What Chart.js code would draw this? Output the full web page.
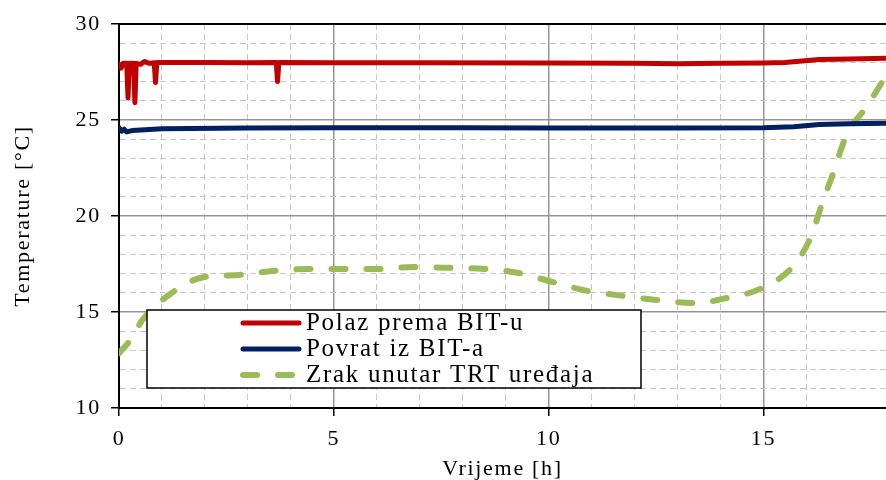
<!DOCTYPE html>
<html>
<head>
<meta charset="utf-8">
<script src="https://cdn.jsdelivr.net/npm/chart.js@4.4.0/dist/chart.umd.min.js"></script>
<style>
  html, body { margin: 0; padding: 0; background: #fff; overflow: hidden; }
  #wrap { width: 886px; height: 480px; }
</style>
</head>
<body>
<div id="wrap"><canvas id="myChart" width="886" height="480"></canvas></div>
<script>
const seriesNames = ['Polaz prema BIT-u', 'Povrat iz BIT-a', 'Zrak unutar TRT uređaja'];

// Polaz prema BIT-u
const polazH = [0, 0.05, 0.1, 0.18, 0.21, 0.24, 0.34, 0.37, 0.4, 0.5, 0.6, 0.7, 0.82, 0.85, 0.88, 2, 3, 3.66, 3.69, 3.72, 5, 7, 10, 12, 13, 14, 15, 15.5, 16.3, 17, 17.85];
const polazT = [27.9, 27.7, 27.95, 27.95, 26.15, 27.95, 27.95, 25.9, 27.95, 27.9, 28.05, 27.95, 27.98, 26.95, 28.0, 28.0, 27.98, 28.0, 27.0, 28.0, 27.98, 27.98, 27.97, 27.95, 27.93, 27.95, 27.97, 28.0, 28.15, 28.18, 28.22];

// Povrat iz BIT-a
const povratH = [0, 0.06, 0.12, 0.18, 0.3, 1, 3, 5, 8, 10, 13, 15, 15.7, 16.3, 17, 17.85];
const povratT = [24.6, 24.42, 24.52, 24.38, 24.45, 24.55, 24.58, 24.6, 24.6, 24.58, 24.58, 24.6, 24.65, 24.77, 24.8, 24.83];

// Zrak unutar TRT uređaja
const zrakH = [0, 0.25, 0.55, 1.17, 1.94, 2.8, 3.57, 4.43, 5.2, 6.06, 6.83, 7.69, 8.5, 9.3, 10.1, 10.9, 11.6, 12.5, 13.4, 14.15, 14.97, 15.67, 16.1, 16.37, 16.6, 16.93, 17.4, 17.85];
const zrakT = [12.85, 13.5, 14.6, 15.9, 16.8, 16.93, 17.14, 17.24, 17.24, 17.24, 17.34, 17.3, 17.24, 17.03, 16.56, 16.1, 15.88, 15.63, 15.47, 15.73, 16.25, 17.34, 18.9, 20.7, 22.1, 24.2, 25.7, 27.3];

const xTicks = [0, 5, 10, 15];
const yTicks = [10, 15, 20, 25, 30];

const serif = "'Liberation Serif', 'Times New Roman', serif";
const pts = (xs, ys) => xs.map((x, i) => ({ x: x, y: ys[i] }));
const isMajor = (ctx, list) => ctx.tick && list.includes(ctx.tick.value);

// legend in a box inside the plot, like the original
const boxLegend = {
  id: 'boxLegend',
  afterDatasetsDraw(chart) {
    const { ctx, chartArea } = chart;
    const left = chartArea.left + 28, top = chartArea.top + 286;
    const w = 494, h = 78;
    ctx.save();
    ctx.fillStyle = '#fff';
    ctx.fillRect(left, top, w, h);
    ctx.strokeStyle = '#000';
    ctx.lineWidth = 1.5;
    ctx.strokeRect(left, top, w, h);
    ctx.letterSpacing = '1.7px';
    ctx.font = '25px ' + serif;
    ctx.textBaseline = 'alphabetic';
    chart.data.datasets.forEach((ds, i) => {
      const yy = top + 13 + i * 26;
      ctx.beginPath();
      ctx.strokeStyle = ds.borderColor;
      ctx.lineWidth = ds.borderWidth;
      ctx.lineCap = 'round';
      ctx.setLineDash(ds.borderDash || []);
      ctx.moveTo(left + 96, yy);
      ctx.lineTo(left + 152, yy);
      ctx.stroke();
      ctx.setLineDash([]);
      ctx.fillStyle = '#000';
      ctx.fillText(ds.label, left + 159, yy + 7);
    });
    ctx.restore();
  },
  beforeDraw(chart) {
    chart.ctx.letterSpacing = '1.7px';
  },
  afterDraw(chart) {
    const { ctx, chartArea } = chart;
    ctx.save();
    ctx.strokeStyle = '#000';
    ctx.lineWidth = 2;
    ctx.beginPath();
    ctx.moveTo(chartArea.left, chartArea.top);
    ctx.lineTo(chartArea.right, chartArea.top);
    ctx.stroke();
    ctx.restore();
  }
};

new Chart(document.getElementById('myChart'), {
  type: 'line',
  data: {
    datasets: [
      {
        label: seriesNames[0], data: pts(polazH, polazT),
        borderColor: '#C00000', borderWidth: 5, pointRadius: 0, tension: 0,
        borderCapStyle: 'round', borderJoinStyle: 'round'
      },
      {
        label: seriesNames[1], data: pts(povratH, povratT),
        borderColor: '#002060', borderWidth: 5, pointRadius: 0, tension: 0,
        borderCapStyle: 'round', borderJoinStyle: 'round'
      },
      {
        label: seriesNames[2], data: pts(zrakH, zrakT),
        borderColor: '#9BBB59', borderWidth: 6, pointRadius: 0,
        cubicInterpolationMode: 'monotone', borderDash: [14, 21],
        borderCapStyle: 'round'
      }
    ]
  },
  options: {
    responsive: false,
    animation: false,
    devicePixelRatio: 1,
    layout: { padding: { top: 24, right: 0, left: 0, bottom: 0 } },
    plugins: { legend: { display: false }, tooltip: { enabled: false } },
    scales: {
      x: {
        type: 'linear', min: 0, max: 17.85,
        afterBuildTicks: axis => { axis.ticks = axis.ticks.filter(t => Number.isInteger(t.value)); },
        afterFit: axis => { axis.height = 72; },
        ticks: {
          stepSize: 1, autoSkip: false, maxRotation: 0, padding: 10, color: '#000',
          font: { family: serif, size: 22, lineHeight: 1.2 },
          callback: v => xTicks.includes(v) ? String(v) : ''
        },
        grid: {
          color: ctx => isMajor(ctx, xTicks) ? '#959595' : '#c6c6c6',
          lineWidth: ctx => isMajor(ctx, xTicks) ? 1.5 : 1, tickLength: 8, tickWidth: 1.5,
          tickColor: ctx => isMajor(ctx, xTicks) ? '#000' : 'rgba(0,0,0,0)'
        },
        border: { color: '#000', width: 2, dash: ctx => (ctx.tick && !xTicks.includes(ctx.tick.value)) ? [6, 4] : [] },
        title: {
          display: true, text: 'Vrijeme [h]', color: '#000',
          font: { family: serif, size: 22, lineHeight: 1 }, padding: 0
        }
      },
      y: {
        min: 10, max: 30,
        afterFit: axis => { axis.width = 119; },
        ticks: {
          stepSize: 1, autoSkip: false, padding: 10, color: '#000',
          font: { family: serif, size: 22, lineHeight: 1.2 },
          callback: v => yTicks.includes(v) ? String(v) : ''
        },
        grid: {
          color: ctx => isMajor(ctx, yTicks) ? '#959595' : '#c6c6c6',
          lineWidth: ctx => isMajor(ctx, yTicks) ? 1.5 : 1, tickLength: 8, tickWidth: 1.5,
          tickColor: ctx => isMajor(ctx, yTicks) ? '#000' : 'rgba(0,0,0,0)'
        },
        border: { color: '#000', width: 2, dash: ctx => (ctx.tick && !yTicks.includes(ctx.tick.value)) ? [6, 4] : [] },
        title: {
          display: true, text: 'Temperature [°C]', color: '#000',
          font: { family: serif, size: 22, lineHeight: 1 }, padding: { top: 12, bottom: 0 }
        }
      }
    }
  },
  plugins: [boxLegend]
});
</script>
</body>
</html>
